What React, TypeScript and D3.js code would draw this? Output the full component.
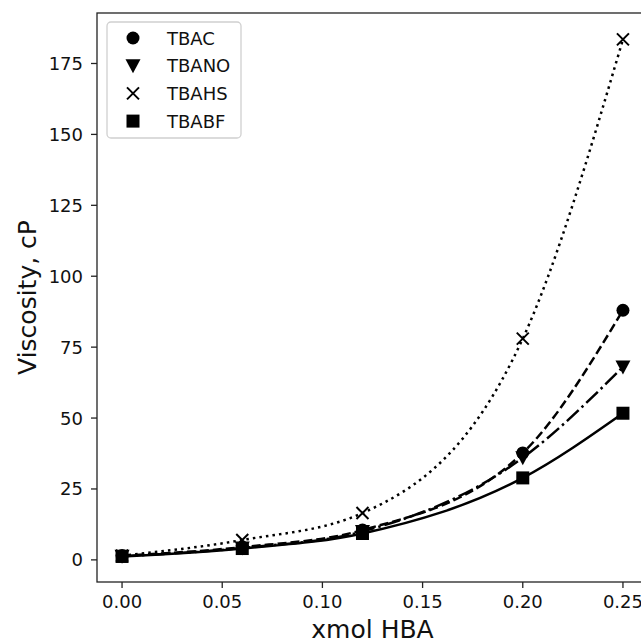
import React from "react";
import * as d3 from "d3";

const xValues = [0, 0.06, 0.12, 0.2, 0.25];
const seriesNames = ["TBAC", "TBANO", "TBAHS", "TBABF"];
const tbac = [1.5, 4.5, 10.5, 37.7, 88];
const tbano = [1.3, 4.2, 10, 36, 68];
const tbahs = [1.5, 7, 16.5, 78, 183.5];
const tbabf = [1.2, 4, 9.3, 28.9, 51.7];
const xTicks = [0, 0.05, 0.1, 0.15, 0.2, 0.25];
const yTicks = [0, 25, 50, 75, 100, 125, 150, 175];

const seriesValues = [tbac, tbano, tbahs, tbabf];
const markers = ["circle", "triangle", "x", "square"];
const dashes = ["9,4", "16,4,2.5,4", "2.5,4.1", ""];

const W = 641, H = 641;
const left = 97, right = 648, top = 13, bottom = 582;
const FONT = "DejaVu Sans, sans-serif";

function Marker({ type, x, y }: { type: string; x: number; y: number }) {
  if (type === "circle") return <circle cx={x} cy={y} r={6.5} fill="#000" />;
  if (type === "square") return <rect x={x - 6.5} y={y - 6.5} width={13} height={13} fill="#000" />;
  if (type === "triangle")
    return <path d={`M${x - 7.5},${y - 6.5}L${x + 7.5},${y - 6.5}L${x},${y + 7.5}Z`} fill="#000" />;
  return (
    <path d={`M${x - 6},${y - 6}L${x + 6},${y + 6}M${x - 6},${y + 6}L${x + 6},${y - 6}`} stroke="#000" strokeWidth={2} />
  );
}

export default function App() {
  const x = d3.scaleLinear().domain([-0.0125, 0.2625]).range([left, right]);
  const y = d3.scaleLinear().domain([-7.8, 192.8]).range([bottom, top]);
  const line = d3
    .line<[number, number]>()
    .x((d) => x(d[0]))
    .y((d) => y(d[1]))
    .curve(d3.curveMonotoneX);

  return (
    <svg width={W} height={H} style={{ position: "absolute", left: 0, top: 0, background: "#fff" }} fontFamily={FONT}>
      <defs>
        <clipPath id="plot">
          <rect x={left} y={top} width={right - left} height={bottom - top} />
        </clipPath>
      </defs>
      <rect x={0} y={0} width={W} height={H} fill="#fff" />
      <g clipPath="url(#plot)">
        {seriesValues.map((vals, i) => (
          <path
            key={"l" + i}
            d={line(xValues.map((xv, j) => [xv, vals[j]] as [number, number])) || ""}
            fill="none"
            stroke="#000"
            strokeWidth={2.5}
            strokeDasharray={dashes[i] || undefined}
          />
        ))}
      </g>
      {seriesValues.map((vals, i) => (
        <g key={"m" + i}>
          {xValues.map((xv, j) => (
            <Marker key={j} type={markers[i]} x={x(xv)} y={y(vals[j])} />
          ))}
        </g>
      ))}
      {/* spines */}
      <rect x={left} y={top} width={right - left} height={bottom - top} fill="none" stroke="#222" strokeWidth={1.3} />
      {/* x ticks */}
      {xTicks.map((t) => (
        <g key={"xt" + t}>
          <line x1={x(t)} x2={x(t)} y1={bottom} y2={bottom + 6} stroke="#222" strokeWidth={1.3} />
          <text x={x(t)} y={bottom + 26} textAnchor="middle" fontSize={18} fill="#111">
            {t.toFixed(2)}
          </text>
        </g>
      ))}
      {yTicks.map((t) => (
        <g key={"yt" + t}>
          <line x1={left - 6} x2={left} y1={y(t)} y2={y(t)} stroke="#222" strokeWidth={1.3} />
          <text x={left - 14} y={y(t) + 6.5} textAnchor="end" fontSize={18} fill="#111">
            {t}
          </text>
        </g>
      ))}
      <text x={(left + right) / 2} y={638} textAnchor="middle" fontSize={25} fill="#111">
        xmol HBA
      </text>
      <text
        transform={`translate(${36},${(top + bottom) / 2}) rotate(-90)`}
        textAnchor="middle"
        fontSize={25}
        fill="#111"
      >
        Viscosity, cP
      </text>
      {/* legend */}
      <rect x={107} y={22} width={134} height={116} rx={4} fill="#fff" fillOpacity={0.8} stroke="#d0d0d0" strokeWidth={1.3} />
      {seriesNames.map((name, i) => (
        <g key={"lg" + i}>
          <Marker type={markers[i]} x={133} y={38 + i * 27.7} />
          <text x={167} y={38 + i * 27.7 + 6.5} fontSize={18} fill="#111">
            {name}
          </text>
        </g>
      ))}
    </svg>
  );
}
